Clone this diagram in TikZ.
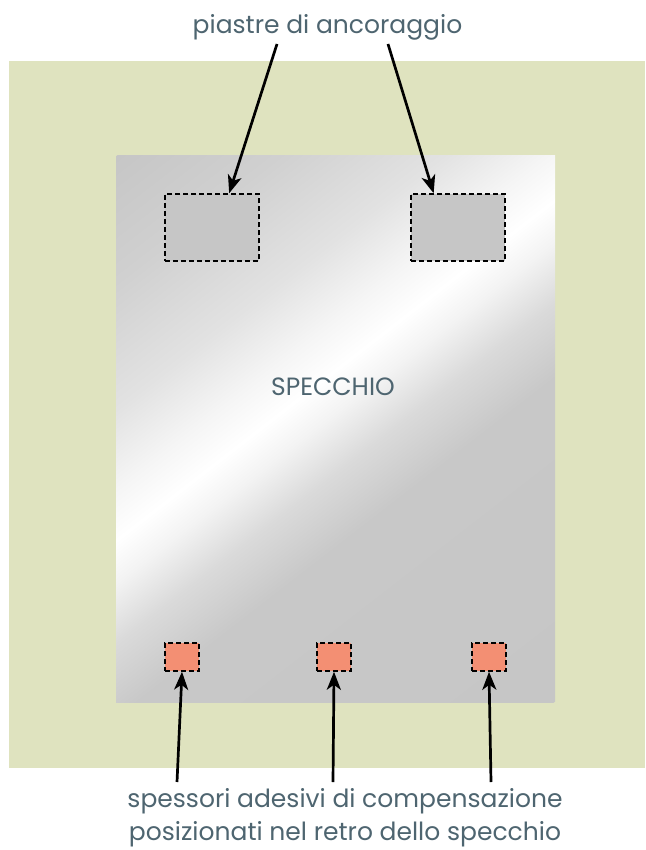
\documentclass[tikz,border=0pt]{standalone}
\usepackage{fontspec}
\setmainfont{Poppins}
\usetikzlibrary{positioning, calc, arrows.meta}
\definecolor{wallgreen}{RGB}{223, 227, 191}
\definecolor{mirrorgrey}{RGB}{198, 198, 198}
\definecolor{mirrorA}{RGB}{208, 208, 208}
\definecolor{mirrorB}{RGB}{226, 226, 226}
\definecolor{mirrorC}{RGB}{245, 245, 245}
\definecolor{mirrorD}{RGB}{243, 243, 243}
\definecolor{mirrorE}{RGB}{218, 218, 218}
\definecolor{mirrorF}{RGB}{200, 200, 200}
\definecolor{padsalmon}{RGB}{243, 143, 115}
\definecolor{labeltext}{RGB}{78, 101, 112}
\pgfdeclarehorizontalshading{mirrorshade}{100bp}{color(0bp)=(mirrorgrey); color(25bp)=(mirrorgrey); color(32.1bp)=(mirrorA); color(39.3bp)=(mirrorB); color(43.8bp)=(mirrorC); color(46.7bp)=(white); color(49.1bp)=(mirrorD); color(52.5bp)=(mirrorE); color(56.7bp)=(mirrorF); color(75bp)=(mirrorgrey); color(100bp)=(mirrorgrey)}

\begin{document}
\begin{tikzpicture}[x=1pt, y=-1pt, every node/.style={font=\fontsize{25}{33}\selectfont, text=labeltext}]
    \tikzstyle{plate} = [draw=black, dashed, dash pattern=on 5pt off 3pt, line width=1.5pt, fill=mirrorgrey, minimum width=94pt, minimum height=67pt, inner sep=0pt]
    \tikzstyle{pad} = [plate, fill=padsalmon, minimum width=34pt, minimum height=28pt]
    \tikzstyle{arrow} = [line width=2.7pt, -{Stealth[length=18pt, width=14pt, inset=5pt]}, draw=black]

    \useasboundingbox (0,0) rectangle (645,850);

    % Wall and mirror
    \fill[wallgreen] (9,61) rectangle (645,768);
    \begin{scope}
        \clip (116,156) rectangle (555,702);
        \begin{scope}[transform canvas={rotate around={-52.2:(335.5,429)}}]
            \shade[shading=mirrorshade] (-14.5,29) rectangle (685.5,829);
        \end{scope}
    \end{scope}

    % Nodes
    \node (mirror) at (333, 387) {SPECCHIO};
    \node (plateL) [plate] at (212, 227.5) {};
    \node (plateR) [plate] at (458, 227.5) {};
    \node (padL) [pad] at (182, 657) {};
    \node (padM) [pad] at (334, 657) {};
    \node (padR) [pad] at (489, 657) {};
    \node (platelbl) at (327.5, 27) {piastre di ancoraggio};
    \node (padlbl) [align=center] at (345, 818) {spessori adesivi di compensazione\\posizionati nel retro dello specchio};

    \coordinate (tailL) at (277, 44);
    \coordinate (tailR) at (388, 44);
    \coordinate (tail1) at (177, 782);
    \coordinate (tail2) at (333, 782);
    \coordinate (tail3) at (491, 782);

    % Arrows
    \draw [arrow] (tailL) -- ($(plateL.north west)!.68!(plateL.north east)$);
    \draw [arrow] (tailR) -- ($(plateR.north west)!.245!(plateR.north east)$);
    \draw [arrow] (tail1) -- (padL.south);
    \draw [arrow] (tail2) -- (padM.south);
    \draw [arrow] (tail3) -- (padR.south);
\end{tikzpicture}
\end{document}
